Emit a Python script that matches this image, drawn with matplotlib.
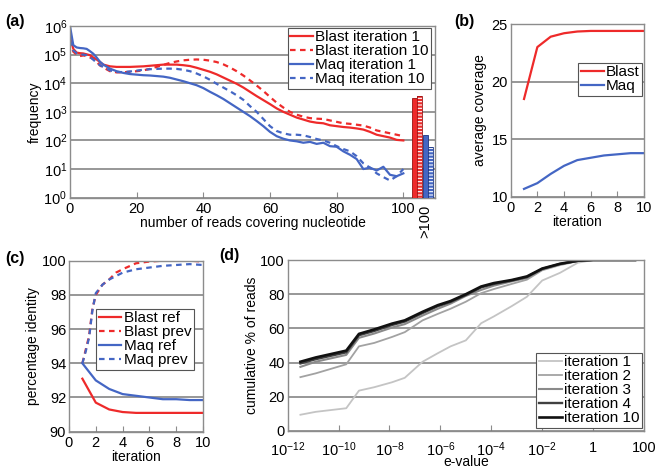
import numpy as np
import matplotlib
matplotlib.use("Agg")
import matplotlib.pyplot as plt

plt.rcParams['font.family'] = ['Liberation Sans', 'DejaVu Sans']
plt.rcParams['mathtext.fontset'] = 'custom'
plt.rcParams['mathtext.rm'] = 'Liberation Sans'
plt.rcParams['mathtext.it'] = 'Liberation Sans:italic'
plt.rcParams['hatch.linewidth'] = 0.8

# ---- data (a): coverage histogram, log10 of frequency ----
cov_x = [0, 1, 2, 3, 4, 5, 6, 7, 8, 9, 10, 12, 14, 16, 18, 20, 22, 24, 26, 28,
         30, 32, 34, 36, 38, 40, 42, 44, 46, 48, 50, 52, 54, 56, 58, 60, 62, 64,
         66, 68, 70, 72, 74, 76, 78, 80, 82, 84, 86, 88, 90, 92, 94, 96, 98, 100]
blast1_log = [5.6, 5.2, 5.07, 5.05, 5.04, 5.01, 4.98, 4.9, 4.83, 4.74, 4.65, 4.59,
              4.57, 4.57, 4.57, 4.58, 4.59, 4.61, 4.63, 4.65, 4.65, 4.65, 4.63, 4.6,
              4.54, 4.47, 4.4, 4.31, 4.2, 4.09, 3.98, 3.85, 3.7, 3.55, 3.41, 3.27,
              3.12, 3.0, 2.9, 2.8, 2.73, 2.66, 2.62, 2.6, 2.53, 2.5, 2.47, 2.45,
              2.42, 2.38, 2.3, 2.2, 2.15, 2.1, 2.02, 2.0]
blast10_log = [5.5, 5.1, 5.0, 4.95, 4.97, 4.95, 4.9, 4.85, 4.75, 4.62, 4.55, 4.42,
               4.38, 4.38, 4.4, 4.42, 4.45, 4.5, 4.57, 4.64, 4.71, 4.76, 4.8, 4.82,
               4.83, 4.82, 4.79, 4.74, 4.66, 4.55, 4.42, 4.27, 4.1, 3.92, 3.73, 3.52,
               3.32, 3.15, 3.0, 2.9, 2.83, 2.78, 2.76, 2.75, 2.7, 2.65, 2.6, 2.58,
               2.55, 2.52, 2.45, 2.35, 2.3, 2.25, 2.2, 2.15]
maq1_log = [6.0, 5.33, 5.25, 5.23, 5.22, 5.2, 5.12, 5.03, 4.9, 4.75, 4.65, 4.51,
            4.42, 4.36, 4.32, 4.3, 4.28, 4.27, 4.25, 4.23, 4.19, 4.13, 4.07, 4.0,
            3.93, 3.83, 3.7, 3.58, 3.45, 3.3, 3.15, 3.0, 2.85, 2.68, 2.5, 2.3,
            2.15, 2.06, 2.0, 1.97, 1.92, 1.95, 1.88, 1.92, 1.8, 1.78, 1.62, 1.5,
            1.35, 1.0, 1.05, 0.95, 1.08, 0.8, 0.75, 0.85]
maq10_log = [5.5, 5.15, 5.05, 5.0, 5.0, 4.98, 4.92, 4.82, 4.72, 4.63, 4.57, 4.45,
             4.39, 4.39, 4.41, 4.44, 4.47, 4.49, 4.5, 4.51, 4.51, 4.5, 4.47, 4.42,
             4.34, 4.24, 4.12, 3.98, 3.85, 3.72, 3.58, 3.42, 3.2, 3.0, 2.75, 2.5,
             2.33, 2.25, 2.2, 2.2, 2.18, 2.12, 2.05, 2.0, 1.92, 1.8, 1.7, 1.62,
             1.45, 1.2, 1.05, 0.85, 0.72, 0.6, 0.75, 1.0]
over100 = [3000, 3500, 160, 60]  # blast1, blast10, maq1, maq10 (>100 reads)

# ---- data (b): average coverage ----
iters = [1, 2, 3, 4, 5, 6, 7, 8, 9, 10]
cov_blast = [18.5, 23.0, 23.9, 24.2, 24.35, 24.4, 24.4, 24.4, 24.4, 24.4]
cov_maq = [10.7, 11.2, 12.0, 12.7, 13.2, 13.4, 13.6, 13.7, 13.8, 13.8]

# ---- data (c): percentage identity ----
id_ref_blast = [93.1, 91.7, 91.3, 91.15, 91.1, 91.1, 91.1, 91.1, 91.1, 91.1]
id_ref_maq = [94.0, 93.0, 92.5, 92.2, 92.1, 92.0, 91.9, 91.9, 91.85, 91.85]
prev_x = [1, 1.25, 1.5, 1.75, 2, 2.5, 3, 3.5, 4, 5, 6, 7, 8, 9, 10]
id_prev_blast = [94.0, 94.8, 95.6, 97.2, 98.0, 98.6, 98.9, 99.3, 99.5, 99.85, 99.95, 100.0, 100.0, 100.0, 99.95]
id_prev_maq = [94.0, 94.7, 95.5, 97.1, 98.1, 98.6, 98.9, 99.1, 99.3, 99.5, 99.6, 99.7, 99.75, 99.8, 99.75]

# ---- data (d): cumulative % of reads vs log10 e-value ----
ev_log = [-11.5, -10.9, -9.7, -9.2, -8.6, -7.9, -7.4, -6.7, -6.1, -5.6, -5.0,
          -4.4, -3.9, -3.2, -2.6, -2.0, -1.3, -0.6, 0.0, 0.5, 1.0, 1.65]
cum_it1 = [9.5, 11.2, 13.3, 23.6, 25.6, 28.5, 31.1, 40.5, 45.5, 49.5, 53.0,
           63.0, 67.0, 73.0, 78.5, 88.0, 92.5, 98.4, 100, 100, 100, 100]
cum_it2 = [31.5, 33.7, 39.0, 49.5, 51.5, 55.0, 57.8, 64.7, 68.5, 71.5, 75.6,
           80.6, 83.0, 86.0, 88.5, 94.0, 97.0, 99.3, 100, 100, 100, 100]
cum_it3 = [37.5, 40.5, 44.5, 54.5, 57.0, 60.5, 62.5, 67.5, 71.5, 74.5, 79.0,
           82.5, 85.0, 87.5, 89.5, 94.5, 97.5, 99.5, 100, 100, 100, 100]
cum_it4 = [39.5, 42.0, 46.0, 56.0, 58.5, 62.0, 64.0, 69.0, 73.0, 75.5, 79.5,
           84.0, 86.0, 88.0, 90.0, 94.8, 97.7, 99.5, 100, 100, 100, 100]
cum_it10 = [40.5, 43.0, 47.0, 56.8, 59.4, 62.8, 64.7, 69.7, 73.6, 76.0, 80.0,
            84.5, 86.5, 88.3, 90.4, 95.0, 97.8, 99.6, 100, 100, 100, 100]

RED = '#ee2a2a'
BLUE = '#4466c4'
GRID = '#7a7a7a'
SPINE = '#8c8c8c'
TFS = 10.5   # tick labels
LFS = 10     # axis labels
GFS = 11     # legends


def style(ax):
    for s in ax.spines.values():
        s.set_color(SPINE)
        s.set_linewidth(1.0)
    ax.yaxis.grid(True, color=GRID, linewidth=1.1)
    ax.set_axisbelow(True)
    ax.tick_params(axis='x', direction='in', length=4, color=SPINE, labelsize=TFS, pad=3)
    ax.tick_params(axis='y', length=0, labelsize=TFS, pad=2)


def leg(ax, **kw):
    l = ax.legend(fancybox=False, framealpha=1, edgecolor='#555555', fontsize=GFS,
                  handlelength=1.5, handletextpad=0.15, borderpad=0.15,
                  labelspacing=0.0, borderaxespad=0, **kw)
    l.get_frame().set_linewidth(0.8)
    return l


fig = plt.figure(figsize=(6.57, 4.7), dpi=100)

# (a)
ax = fig.add_axes([0.1065, 0.5794, 0.5556, 0.3653])
style(ax)
cx = np.array(cov_x)
ax.plot(cx, 10 ** np.array(blast1_log), color=RED, lw=1.6, label='Blast iteration 1')
ax.plot(cx, 10 ** np.array(blast10_log), color=RED, lw=1.6, ls=(0, (2.5, 2)), label='Blast iteration 10')
ax.plot(cx, 10 ** np.array(maq1_log), color=BLUE, lw=1.6, label='Maq iteration 1')
ax.plot(cx, 10 ** np.array(maq10_log), color=BLUE, lw=1.6, ls=(0, (2.5, 2)), label='Maq iteration 10')
bar_x = [103.3, 104.8, 106.6, 108.1]
bar_c = [RED, RED, BLUE, BLUE]
bar_e = ['#9a1010', '#9a1010', '#1c3580', '#1c3580']
for i in range(4):
    if i % 2 == 1:
        ax.bar(bar_x[i], over100[i], width=1.5, color=bar_c[i], edgecolor='white',
               hatch='-----', linewidth=0, zorder=3)
        ax.bar(bar_x[i], over100[i], width=1.5, fill=False, edgecolor=bar_e[i],
               linewidth=0.6, zorder=4)
    else:
        ax.bar(bar_x[i], over100[i], width=1.5, color=bar_c[i], edgecolor=bar_e[i],
               linewidth=0.6, zorder=3)
ax.set_yscale('log')
ax.set_ylim(1, 1e6)
ax.set_xlim(0, 109.5)
ax.set_yticks([10 ** k for k in range(7)])
ax.set_yticklabels(['$10^{%d}$' % k for k in range(7)])
ax.yaxis.set_minor_locator(matplotlib.ticker.NullLocator())
ax.set_xticks([0, 20, 40, 60, 80, 100])
ax.set_xlabel('number of reads covering nucleotide', fontsize=LFS, labelpad=0)
ax.set_ylabel('frequency', fontsize=LFS, labelpad=1)
ax.text(106.6, -0.04, '>100', rotation=90, transform=ax.get_xaxis_transform(),
        ha='center', va='top', fontsize=TFS)
leg(ax, loc='upper right', bbox_to_anchor=(0.989, 0.988))
fig.text(0.008, 0.955, '(a)', fontsize=11.5, fontweight='bold', va='center')

# (b)
ax = fig.add_axes([0.7773, 0.5809, 0.2029, 0.368])
style(ax)
ax.plot(iters, cov_blast, color=RED, lw=1.6, label='Blast')
ax.plot(iters, cov_maq, color=BLUE, lw=1.6, label='Maq')
ax.set_xlim(0, 10)
ax.set_ylim(10, 25)
ax.set_xticks([0, 2, 4, 6, 8, 10])
ax.set_yticks([10, 15, 20, 25])
ax.set_xlabel('iteration', fontsize=LFS, labelpad=0)
ax.set_ylabel('average coverage', fontsize=LFS, labelpad=3)
leg(ax, loc='upper right', bbox_to_anchor=(0.985, 0.775))
fig.text(0.692, 0.955, '(b)', fontsize=11.5, fontweight='bold', va='center')

# (c)
ax = fig.add_axes([0.105, 0.0815, 0.204, 0.3638])
style(ax)
ax.plot(iters, id_ref_blast, color=RED, lw=1.6, label='Blast ref')
ax.plot(prev_x, id_prev_blast, color=RED, lw=1.6, ls=(0, (2.5, 2)), label='Blast prev')
ax.plot(iters, id_ref_maq, color=BLUE, lw=1.6, label='Maq ref')
ax.plot(prev_x, id_prev_maq, color=BLUE, lw=1.6, ls=(0, (2.5, 2)), label='Maq prev')
ax.set_xlim(0, 10)
ax.set_ylim(90, 100)
ax.set_xticks([0, 2, 4, 6, 8, 10])
ax.set_yticks([90, 92, 94, 96, 98, 100])
ax.set_xlabel('iteration', fontsize=LFS, labelpad=0)
ax.set_ylabel('percentage identity', fontsize=LFS, labelpad=1)
leg(ax, loc='upper right', bbox_to_anchor=(0.93, 0.717))
fig.text(0.008, 0.451, '(c)', fontsize=11.5, fontweight='bold', va='center')

# (d)
ax = fig.add_axes([0.4379, 0.0830, 0.5423, 0.3638])
style(ax)
ev = 10.0 ** np.array(ev_log)
greys = ['#c4c4c4', '#a2a2a2', '#8a8a8a', '#404040', '#111111']
labs = ['iteration 1', 'iteration 2', 'iteration 3', 'iteration 4', 'iteration 10']
series = [cum_it1, cum_it2, cum_it3, cum_it4, cum_it10]
lws = [1.3, 1.3, 1.5, 1.7, 1.9]
for s, g, lb, w in zip(series, greys, labs, lws):
    ax.plot(ev, s, color=g, lw=w, label=lb)
ax.set_xscale('log')
ax.set_xlim(1e-12, 100)
ax.set_ylim(0, 100)
xt = [1e-12, 1e-10, 1e-8, 1e-6, 1e-4, 1e-2, 1, 100]
ax.set_xticks(xt)
ax.set_xticklabels(['$10^{-12}$', '$10^{-10}$', '$10^{-8}$', '$10^{-6}$',
                    '$10^{-4}$', '$10^{-2}$', '1', '100'])
ax.xaxis.set_minor_locator(matplotlib.ticker.NullLocator())
ax.tick_params(axis='x', pad=7)
ax.set_yticks([0, 20, 40, 60, 80, 100])
ax.set_xlabel('e-value', fontsize=LFS, labelpad=-3)
ax.set_ylabel('cumulative % of reads', fontsize=LFS, labelpad=1)
leg(ax, loc='lower right', bbox_to_anchor=(0.9935, 0.02))
fig.text(0.333, 0.457, '(d)', fontsize=11.5, fontweight='bold', va='center')

fig.savefig('out.png', dpi=100)
